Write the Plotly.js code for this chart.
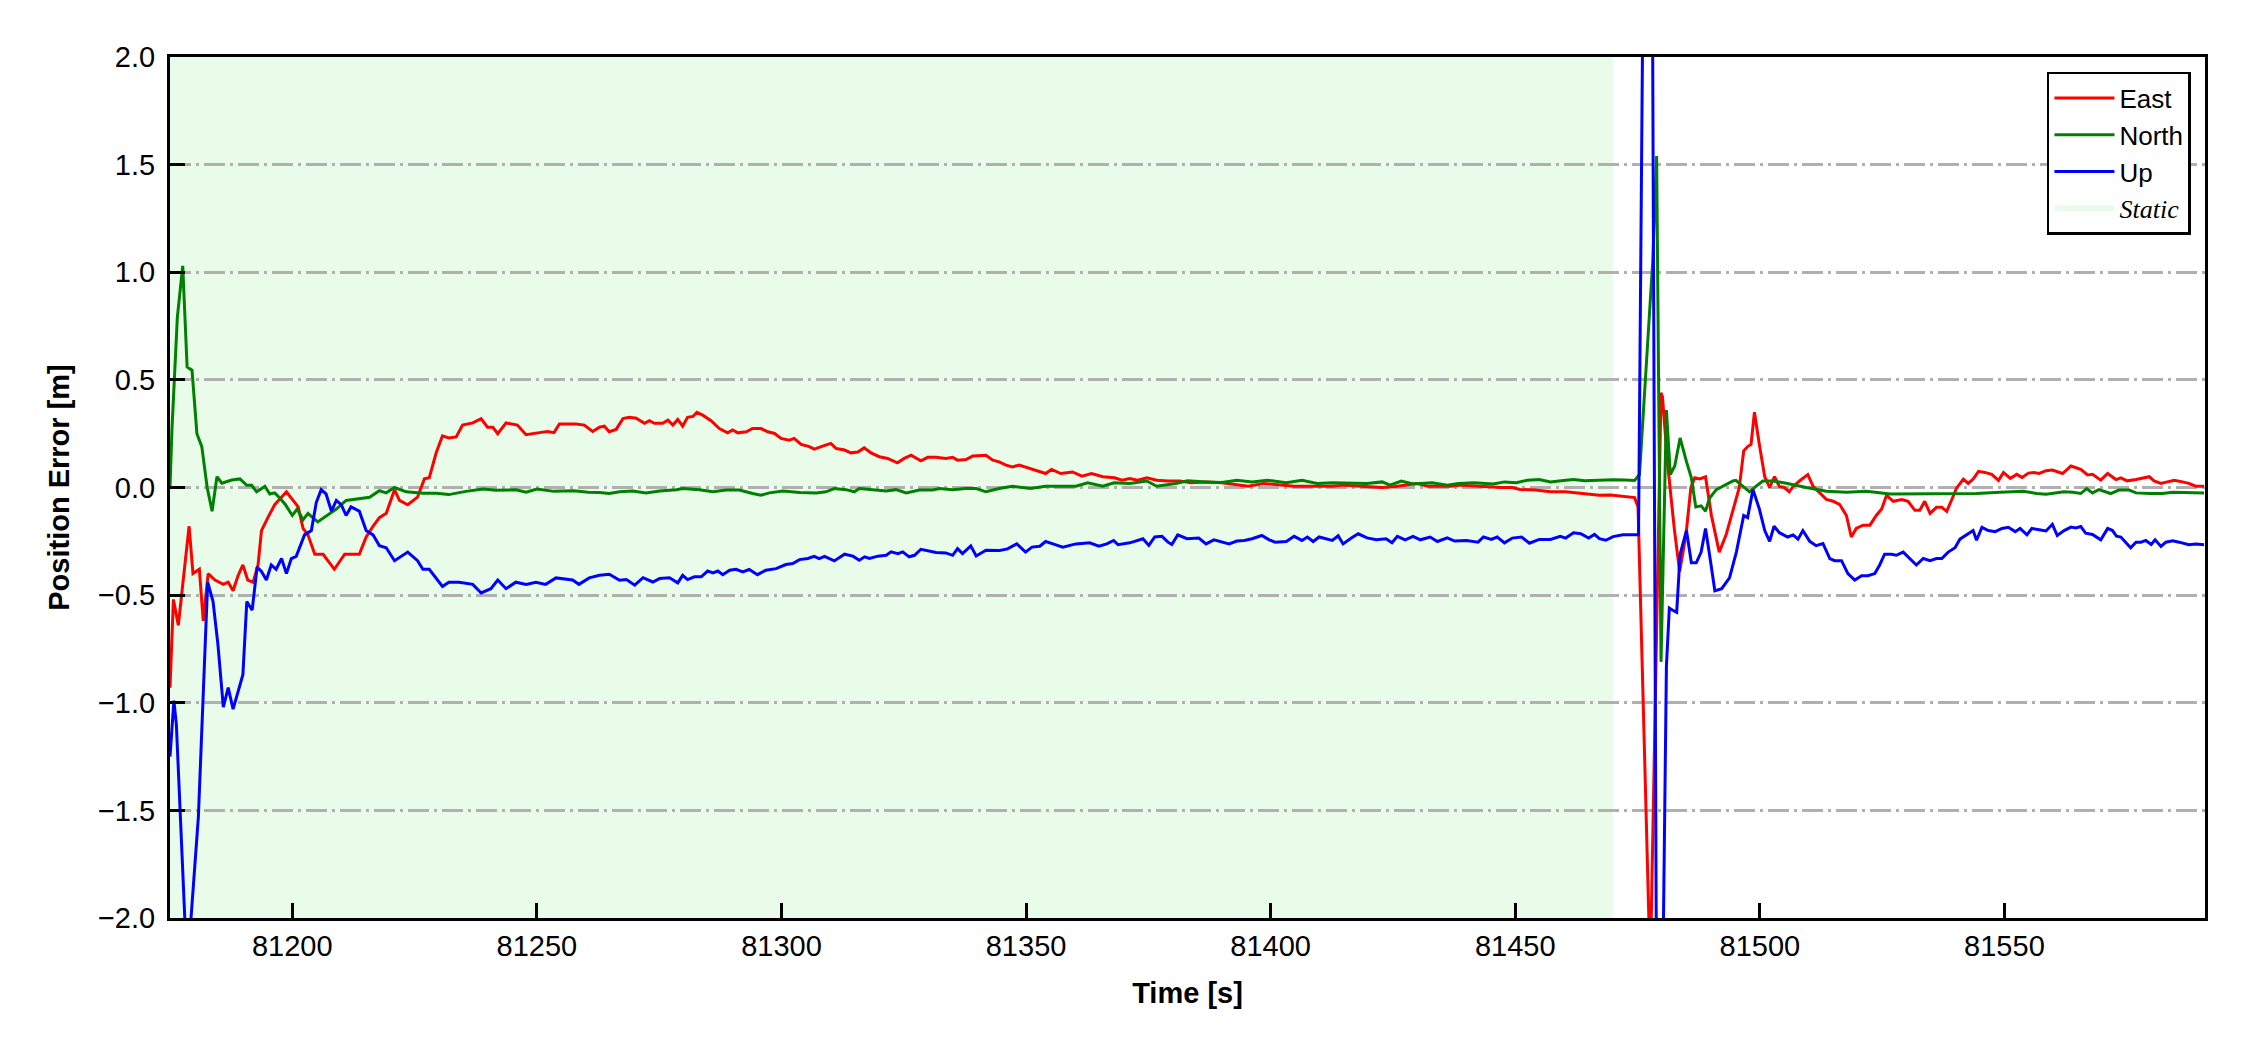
<!DOCTYPE html>
<html>
<head>
<meta charset="utf-8">
<script src="https://cdn.plot.ly/plotly-3.0.1.min.js"></script>
<style>html,body{margin:0;padding:0;background:#fff;}</style>
</head>
<body>
<div id="chart" style="width:2250px;height:1050px;"></div>
<script>
// ---- Data ----
const eastTime = [81175.0,81175.7,81176.7,81177.8,81178.9,81179.7,81181.0,81181.8,81182.8,81184.2,81185.9,81186.9,81187.9,81188.9,81189.9,81190.9,81192.0,81193.0,81193.7,81195.0,81196.4,81198.8,81200.1,81201.2,81202.2,81203.2,81204.6,81206.3,81208.6,81210.7,81213.7,81215.1,81216.5,81217.8,81219.2,81220.9,81221.9,81223.6,81225.6,81227.0,81228.0,81229.4,81230.7,81232.0,81233.5,81234.8,81236.9,81238.6,81239.9,81241.0,81242.0,81243.7,81246.0,81247.8,81250.5,81252.2,81253.5,81254.6,81258.0,81259.7,81261.4,81262.8,81263.8,81264.8,81266.2,81267.6,81268.9,81270.3,81272.0,81273.0,81274.0,81275.7,81276.8,81277.8,81278.8,81279.8,81280.8,81281.9,81282.7,81283.9,81285.6,81287.3,81289.0,81290.0,81291.1,81292.8,81294.1,81295.8,81297.2,81298.6,81299.9,81301.6,81302.6,81304.0,81305.7,81306.7,81308.4,81310.1,81311.2,81312.9,81314.2,81315.6,81316.9,81318.3,81320.0,81321.7,81323.7,81325.1,81326.5,81328.5,81329.9,81331.6,81333.6,81335.0,81336.0,81337.7,81339.1,81341.8,81343.2,81344.5,81345.9,81347.2,81348.6,81351.6,81354.0,81355.2,81357.1,81359.5,81361.4,81363.4,81365.7,81368.1,81369.6,81371.2,81372.8,81374.7,81376.7,81379.0,81381.4,81383.7,81386.8,81390.0,81392.3,81395.4,81398.6,81401.7,81404.8,81407.2,81409.5,81412.6,81415.0,81418.0,81421.2,81422.8,81425.2,81427.5,81429.8,81432.1,81434.5,81436.8,81439.1,81442.4,81444.7,81447.1,81449.4,81451.0,81454.1,81457.2,81460.3,81462.7,81465.0,81467.2,81469.5,81472.0,81474.4,81475.1,81477.6,81479.8,81480.1,81481.1,81482.5,81483.6,81484.9,81485.9,81486.7,81487.7,81488.9,81490.1,81491.7,81493.1,81494.5,81495.8,81496.7,81497.5,81498.2,81498.9,81499.9,81501.0,81502.0,81503.0,81504.0,81505.0,81506.0,81506.8,81508.1,81509.8,81510.9,81511.9,81513.6,81515.0,81516.3,81517.7,81518.7,81519.7,81521.1,81522.5,81523.8,81524.9,81525.9,81527.3,81529.0,81530.3,81531.7,81532.7,81533.7,81534.8,81536.1,81537.2,81538.2,81539.2,81540.2,81541.6,81542.6,81543.6,81544.7,81546.0,81547.4,81548.8,81549.8,81551.2,81552.5,81553.6,81554.9,81556.0,81557.1,81558.5,81559.8,81561.9,81563.6,81565.6,81567.0,81568.0,81569.7,81571.1,81572.8,81573.8,81575.1,81576.9,81578.2,81579.6,81580.6,81582.0,81583.3,81584.7,81586.4,81587.7,81589.1,81590.8];
const east = [-0.93,-0.52,-0.64,-0.42,-0.18,-0.40,-0.38,-0.62,-0.40,-0.43,-0.45,-0.44,-0.48,-0.41,-0.36,-0.43,-0.44,-0.36,-0.20,-0.14,-0.08,-0.02,-0.055,-0.09,-0.19,-0.22,-0.31,-0.31,-0.38,-0.31,-0.31,-0.23,-0.18,-0.14,-0.12,-0.01,-0.06,-0.08,-0.045,0.04,0.045,0.16,0.24,0.23,0.235,0.29,0.30,0.32,0.28,0.28,0.25,0.30,0.29,0.245,0.255,0.26,0.255,0.295,0.295,0.29,0.26,0.28,0.285,0.259,0.27,0.32,0.326,0.322,0.298,0.31,0.298,0.298,0.313,0.29,0.316,0.285,0.326,0.33,0.349,0.336,0.31,0.274,0.254,0.267,0.254,0.259,0.274,0.274,0.259,0.251,0.228,0.22,0.228,0.2,0.19,0.178,0.192,0.205,0.181,0.174,0.161,0.165,0.184,0.161,0.143,0.135,0.115,0.135,0.15,0.124,0.14,0.14,0.135,0.14,0.127,0.13,0.146,0.15,0.127,0.119,0.104,0.096,0.104,0.084,0.065,0.084,0.065,0.072,0.053,0.065,0.05,0.045,0.034,0.042,0.034,0.045,0.034,0.03,0.03,0.022,0.026,0.022,0.016,0.006,0.019,0.011,0.006,0.006,0.006,0.006,0.011,0.006,0.0,0.0,0.003,0.011,0.019,0.006,0.006,0.006,0.011,0.006,0.003,0.0,0.0,-0.009,-0.012,-0.02,-0.02,-0.025,-0.031,-0.036,-0.035,-0.04,-0.047,-0.09,-2.25,0.44,0.42,0.12,-0.19,-0.39,-0.22,0.0,0.045,0.04,0.05,-0.13,-0.30,-0.22,-0.1,0.0,0.17,0.19,0.2,0.35,0.2,0.05,0.0,0.05,0.005,0.0,-0.02,0.005,0.03,0.06,0.005,-0.017,-0.055,-0.064,-0.078,-0.13,-0.23,-0.19,-0.175,-0.175,-0.13,-0.1,-0.036,-0.064,-0.056,-0.064,-0.106,-0.106,-0.064,-0.12,-0.092,-0.092,-0.111,-0.058,-0.003,0.039,0.019,0.039,0.075,0.07,0.061,0.033,0.07,0.042,0.061,0.047,0.067,0.07,0.065,0.078,0.081,0.065,0.1,0.084,0.058,0.061,0.034,0.065,0.037,0.045,0.031,0.037,0.042,0.05,0.031,0.019,0.026,0.034,0.026,0.019,0.006,0.006];

const northTime = [81175.0,81175.4,81176.5,81177.6,81178.5,81179.5,81180.5,81181.5,81182.6,81183.6,81184.6,81185.6,81187.6,81189.3,81190.7,81191.7,81192.7,81194.4,81195.4,81196.4,81197.5,81198.6,81200.0,81201.0,81202.2,81203.2,81205.2,81207.0,81209.0,81211.0,81213.7,81215.8,81217.8,81219.2,81220.9,81223.3,81226.7,81229.4,81232.0,81235.5,81239.0,81241.6,81245.7,81247.8,81250.0,81253.5,81257.5,81260.5,81262.8,81264.8,81266.9,81269.6,81272.3,81275.1,81278.5,81279.8,81283.2,81286.0,81288.7,81291.4,81294.1,81295.8,81297.5,81300.3,81303.7,81307.1,81309.1,81310.8,81313.2,81314.9,81315.9,81318.6,81321.4,81323.4,81325.5,81328.2,81330.9,81332.3,81335.0,81337.7,81339.8,81341.8,81344.5,81347.2,81348.6,81350.9,81354.0,81358.7,81360.2,81362.6,81365.7,81368.0,81371.2,81374.7,81376.7,81380.6,81383.0,81386.8,81390.0,81393.1,81396.2,81399.3,81403.2,81406.4,81409.5,81412.6,81416.5,81419.7,81422.8,81424.4,81426.7,81429.1,81433.0,81436.1,81438.4,81441.6,81445.5,81447.8,81450.2,81452.5,81454.9,81457.2,81460.3,81461.9,81464.2,81467.2,81470.0,81472.5,81474.4,81475.4,81478.1,81478.9,81479.8,81480.9,81481.7,81482.6,81483.7,81485.0,81486.0,81486.9,81488.0,81488.9,81489.7,81491.1,81492.4,81494.5,81495.1,81496.5,81497.9,81499.2,81500.6,81502.7,81505.4,81509.5,81513.6,81517.7,81521.8,81526.6,81531.4,81535.5,81539.5,81544.3,81549.1,81553.9,81556.6,81558.5,81562.2,81564.0,81565.6,81566.8,81568.0,81569.3,81571.7,81573.4,81575.5,81576.9,81579.6,81582.3,81584.4,81587.7,81590.8];
const north = [0.0,0.27,0.79,1.03,0.56,0.545,0.25,0.19,0.0,-0.11,0.05,0.02,0.035,0.04,0.01,0.01,-0.02,0.005,-0.03,-0.025,-0.05,-0.08,-0.13,-0.10,-0.15,-0.12,-0.16,-0.13,-0.10,-0.06,-0.05,-0.045,-0.015,-0.025,0.0,-0.02,-0.027,-0.027,-0.033,-0.018,-0.007,-0.013,-0.011,-0.022,-0.007,-0.018,-0.015,-0.022,-0.023,-0.028,-0.02,-0.016,-0.025,-0.016,-0.01,-0.005,-0.01,-0.02,-0.012,-0.012,-0.028,-0.036,-0.025,-0.016,-0.023,-0.025,-0.02,-0.005,-0.01,-0.02,-0.005,-0.012,-0.016,-0.01,-0.025,-0.012,-0.012,-0.005,-0.01,-0.005,-0.005,-0.02,-0.005,0.006,0.003,-0.005,0.006,0.006,0.006,0.022,0.006,0.022,0.019,0.03,0.006,0.019,0.031,0.026,0.023,0.034,0.026,0.034,0.022,0.034,0.019,0.022,0.019,0.019,0.026,0.011,0.03,0.016,0.022,0.011,0.019,0.022,0.016,0.026,0.022,0.034,0.037,0.026,0.034,0.037,0.031,0.034,0.036,0.035,0.033,0.06,1.05,1.54,-0.81,0.36,0.06,0.1,0.23,0.12,0.045,-0.09,-0.085,-0.11,-0.05,-0.01,0.005,0.03,0.033,0.005,-0.02,0.005,0.03,0.03,0.02,0.0,-0.017,-0.022,-0.017,-0.03,-0.03,-0.028,-0.028,-0.028,-0.022,-0.017,-0.028,-0.031,-0.02,-0.022,-0.028,-0.005,-0.025,-0.01,-0.028,-0.012,-0.012,-0.025,-0.028,-0.028,-0.022,-0.025,-0.025];

const upTime = [81175.0,81175.8,81176.3,81178.5,81180.8,81182.7,81183.8,81184.8,81185.9,81186.9,81187.9,81188.9,81189.9,81190.7,81191.8,81192.8,81193.7,81194.7,81195.7,81196.7,81197.8,81198.8,81199.8,81200.8,81202.5,81203.9,81204.9,81205.9,81206.9,81208.0,81209.0,81210.0,81211.0,81212.0,81213.7,81215.1,81216.5,81217.8,81219.2,81220.9,81223.6,81225.6,81226.7,81228.0,81230.7,81232.0,81234.1,81236.9,81238.6,81240.6,81242.0,81243.7,81245.7,81247.8,81249.8,81251.8,81253.9,81257.3,81258.6,81260.7,81262.8,81264.8,81266.9,81268.3,81270.0,81271.7,81273.7,81275.1,81277.1,81278.8,81279.8,81280.8,81282.2,81283.6,81284.9,81286.0,81287.0,81288.0,81289.4,81290.7,81292.1,81293.4,81295.1,81296.8,81298.9,81300.9,81302.3,81303.7,81305.4,81306.7,81307.7,81308.8,81310.8,81312.9,81314.6,81315.9,81317.0,81318.0,81319.7,81321.4,81322.4,81323.8,81324.8,81326.1,81327.2,81328.5,81329.9,81331.6,81333.6,81335.0,81336.0,81337.0,81338.7,81339.8,81341.8,81343.5,81344.6,81346.2,81348.1,81349.9,81351.2,81352.8,81354.0,81355.5,81357.5,81360.2,81363.0,81364.9,81366.5,81367.9,81368.8,81371.2,81373.9,81375.1,81376.3,81377.8,81379.0,81379.8,81381.0,81382.9,81385.3,81386.8,81388.4,81391.5,81393.1,81394.6,81396.2,81398.2,81399.7,81400.9,81403.2,81404.8,81406.4,81407.5,81408.7,81409.9,81412.6,81413.8,81414.8,81416.5,81417.9,81419.7,81421.6,81423.6,81424.8,81425.9,81427.5,81429.1,81430.6,81432.6,81434.1,81436.1,81437.6,81440.0,81442.4,81443.5,81445.1,81446.3,81447.8,81449.4,81451.3,81452.9,81454.9,81457.2,81459.2,81460.3,81461.9,81463.4,81465.0,81466.2,81467.2,81468.5,81470.0,81472.0,81474.0,81475.2,81477.4,81479.2,81480.9,81481.5,81482.2,81483.0,81483.7,81485.0,81486.0,81487.0,81488.0,81488.9,81489.9,81490.8,81492.2,81493.8,81495.2,81496.7,81497.5,81498.6,81499.9,81501.0,81502.0,81502.9,81504.0,81505.7,81506.8,81507.8,81508.8,81510.2,81511.5,81512.9,81514.3,81515.3,81516.7,81518.0,81519.4,81520.8,81522.1,81523.5,81524.5,81525.5,81526.9,81527.9,81529.3,81530.7,81532.0,81533.4,81534.8,81536.1,81537.2,81538.5,81539.9,81540.9,81542.3,81543.6,81544.3,81545.4,81546.7,81548.1,81549.5,81550.8,81552.2,81553.2,81554.6,81555.6,81557.1,81558.5,81559.8,81560.8,81562.2,81563.6,81564.6,81565.6,81566.6,81568.0,81569.7,81571.1,81572.1,81572.9,81573.8,81574.8,81575.8,81576.9,81577.9,81578.9,81580.0,81580.8,81582.0,81583.0,81584.4,81585.7,81587.7,81589.1,81590.8];
const up = [-1.25,-0.99,-1.1,-2.25,-1.53,-0.44,-0.53,-0.73,-1.02,-0.93,-1.03,-0.95,-0.87,-0.53,-0.57,-0.37,-0.39,-0.43,-0.36,-0.38,-0.33,-0.40,-0.33,-0.32,-0.22,-0.20,-0.07,-0.01,-0.03,-0.11,-0.06,-0.08,-0.13,-0.09,-0.11,-0.20,-0.22,-0.27,-0.28,-0.34,-0.30,-0.34,-0.38,-0.38,-0.46,-0.44,-0.44,-0.45,-0.49,-0.47,-0.43,-0.47,-0.44,-0.45,-0.44,-0.45,-0.42,-0.43,-0.45,-0.42,-0.408,-0.403,-0.431,-0.428,-0.454,-0.419,-0.439,-0.423,-0.419,-0.443,-0.408,-0.428,-0.415,-0.415,-0.388,-0.397,-0.388,-0.405,-0.384,-0.38,-0.392,-0.381,-0.405,-0.384,-0.377,-0.358,-0.353,-0.335,-0.33,-0.32,-0.33,-0.32,-0.341,-0.31,-0.319,-0.338,-0.322,-0.33,-0.319,-0.315,-0.299,-0.307,-0.299,-0.322,-0.315,-0.287,-0.294,-0.302,-0.304,-0.315,-0.284,-0.307,-0.271,-0.318,-0.291,-0.294,-0.293,-0.285,-0.262,-0.30,-0.277,-0.273,-0.251,-0.262,-0.277,-0.262,-0.257,-0.273,-0.262,-0.246,-0.266,-0.257,-0.238,-0.269,-0.23,-0.227,-0.254,-0.265,-0.22,-0.238,-0.235,-0.262,-0.243,-0.262,-0.249,-0.246,-0.238,-0.223,-0.243,-0.254,-0.251,-0.227,-0.246,-0.23,-0.251,-0.23,-0.246,-0.224,-0.262,-0.235,-0.215,-0.234,-0.243,-0.238,-0.257,-0.227,-0.243,-0.227,-0.243,-0.23,-0.251,-0.234,-0.249,-0.246,-0.254,-0.23,-0.241,-0.23,-0.257,-0.235,-0.23,-0.259,-0.241,-0.241,-0.227,-0.235,-0.21,-0.215,-0.235,-0.218,-0.238,-0.245,-0.228,-0.22,-0.218,-0.22,5.9,-4.17,-0.83,-0.56,-0.57,-0.58,-0.31,-0.20,-0.35,-0.35,-0.30,-0.19,-0.34,-0.48,-0.47,-0.42,-0.30,-0.13,-0.14,-0.01,-0.10,-0.20,-0.25,-0.18,-0.21,-0.23,-0.22,-0.24,-0.20,-0.25,-0.27,-0.26,-0.33,-0.34,-0.34,-0.40,-0.43,-0.41,-0.41,-0.40,-0.36,-0.31,-0.31,-0.315,-0.30,-0.33,-0.36,-0.33,-0.34,-0.33,-0.33,-0.30,-0.28,-0.24,-0.22,-0.20,-0.245,-0.185,-0.20,-0.205,-0.19,-0.185,-0.205,-0.19,-0.22,-0.19,-0.196,-0.202,-0.171,-0.223,-0.2,-0.184,-0.188,-0.181,-0.212,-0.218,-0.243,-0.19,-0.2,-0.226,-0.23,-0.254,-0.28,-0.254,-0.254,-0.246,-0.265,-0.243,-0.274,-0.254,-0.248,-0.254,-0.266,-0.262,-0.266];

const staticStart = 81175;
const staticEnd = 81470;
const xRange = [81175, 81591];
const yRange = [-2, 2];
const xTicks = [81200, 81250, 81300, 81350, 81400, 81450, 81500, 81550];
const yTicks = [-2.0, -1.5, -1.0, -0.5, 0.0, 0.5, 1.0, 1.5, 2.0];
const seriesNames = ['East', 'North', 'Up'];
const seriesColors = ['#ff0000', '#008000', '#0000ff'];
const staticColor = 'rgb(233,252,233)';

const FONT = 'Liberation Sans, Arial, sans-serif';

const traces = [
  {x: eastTime, y: east, name: seriesNames[0]},
  {x: northTime, y: north, name: seriesNames[1]},
  {x: upTime, y: up, name: seriesNames[2]}
].map((t, i) => Object.assign(t, {
  type: 'scatter', mode: 'lines',
  line: {color: seriesColors[i], width: 3}
}));

// legend-only entry for the static period
traces.push({
  type: 'scatter', x: [null], y: [null], mode: 'none', fill: 'toself',
  fillcolor: staticColor,
  name: '<span style="font-family:Liberation Serif"><i>Static</i></span>'
});

const layout = {
  width: 2250, height: 1050,
  margin: {l: 170, r: 45, t: 57, b: 132},
  paper_bgcolor: '#ffffff', plot_bgcolor: '#ffffff',
  font: {family: FONT, size: 29, color: '#000'},
  showlegend: true,
  legend: {
    x: 0.9931, y: 0.9826, xanchor: 'right', yanchor: 'top',
    bgcolor: '#ffffff', bordercolor: '#000000', borderwidth: 2.5,
    font: {family: FONT, size: 26, color: '#000'},
    tracegroupgap: 0, itemwidth: 60
  },
  shapes: [{
    type: 'rect', xref: 'x', yref: 'paper', layer: 'below',
    x0: staticStart, x1: staticEnd, y0: 0, y1: 1,
    fillcolor: staticColor, line: {width: 0}
  }],
  xaxis: {
    range: xRange, tickvals: xTicks, tickformat: 'd',
    ticks: 'inside', ticklen: 15, tickwidth: 3, tickcolor: '#000',
    showline: true, linewidth: 3, linecolor: '#000', mirror: true,
    showgrid: false, zeroline: false,
    tickfont: {family: FONT, size: 29, color: '#000'},
    ticklabelstandoff: 0,
    title: {text: 'Time [s]', font: {family: FONT, size: 29, weight: 'bold', color: '#000'}, standoff: 22}
  },
  yaxis: {
    range: yRange, tickvals: yTicks, tickformat: '.1f',
    ticks: 'inside', ticklen: 15, tickwidth: 3, tickcolor: '#000',
    showline: true, linewidth: 3, linecolor: '#000', mirror: true,
    showgrid: true, gridcolor: '#b0b0b0', gridwidth: 3,
    griddash: '21px,5px,3px,5px',
    zeroline: false,
    tickfont: {family: FONT, size: 29, color: '#000'},
    ticklabelstandoff: 6,
    title: {text: 'Position Error [m]', font: {family: FONT, size: 29, weight: 'bold', color: '#000'}, standoff: 20}
  }
};

Plotly.newPlot('chart', traces, layout, {displayModeBar: false, staticPlot: true});
</script>
</body>
</html>
